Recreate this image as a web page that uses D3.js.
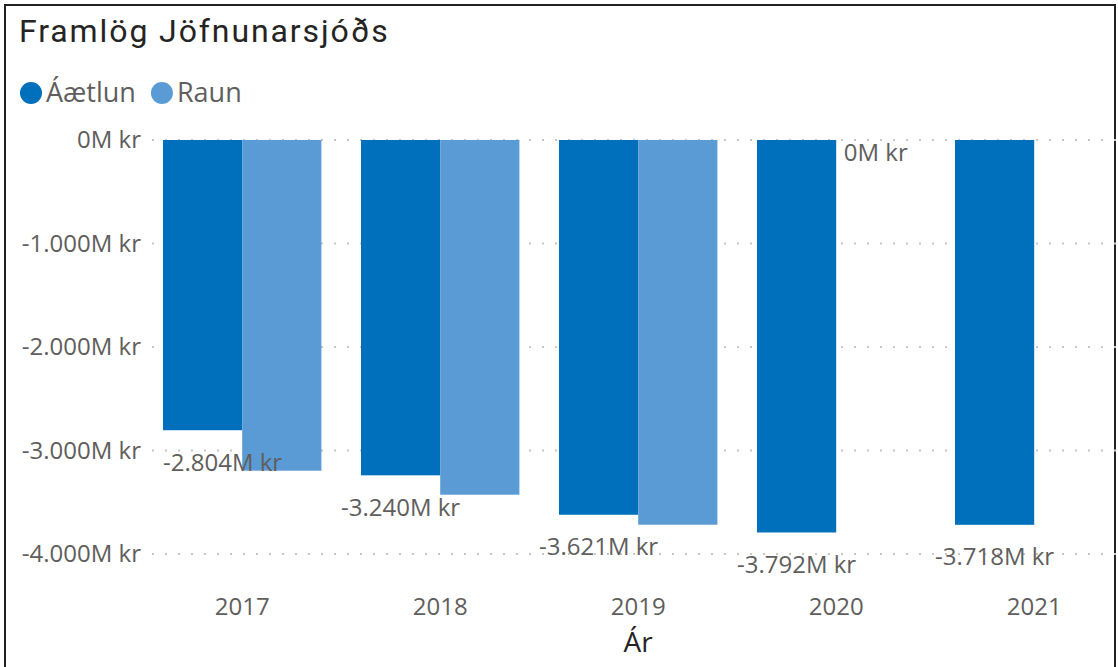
<!DOCTYPE html>
<html>
<head>
<meta charset="utf-8">
<script src="https://cdn.jsdelivr.net/npm/d3@7"></script>
</head>
<body style="overflow: hidden; padding: 0; margin: 0; background: #fff;">
<script>

    const years = ["2017", "2018", "2019", "2020", "2021"];
    const aetlun = [-2804, -3240, -3621, -3792, -3718];   // M kr
    const raun = [-3195, -3427, -3717, 0, null];          // M kr, no value for 2021
    const yTicks = [0, -1000, -2000, -3000, -4000];
    const seriesNames = ["Áætlun", "Raun"];
    const colors = ["#0070BC", "#5B9BD5"];
    const raunLabelYears = ["2020"];

    const width = 1118, height = 667;
    const font = "'Open Sans', 'Noto Sans', sans-serif";
    const gray = "#605E5C";
    const fs = 24;

    const locale = d3.formatLocale({decimal: ",", thousands: ".", grouping: [3], currency: ["", ""], minus: "-"});
    const fmt = d => locale.format(",.0f")(d) + "M kr";

    const svg = d3.select("body").append("svg")
      .attr("width", width)
      .attr("height", height);

    // frame
    svg.append("rect")
      .attr("x", 5).attr("y", 5)
      .attr("width", 1110).attr("height", 700)
      .attr("fill", "none").attr("stroke", "#222").attr("stroke-width", 2);

    svg.append("text")
      .attr("x", 19).attr("y", 42)
      .attr("font-family", "Roboto, sans-serif")
      .attr("font-size", 32)
      .attr("letter-spacing", 1.9)
      .attr("fill", "#252423")
      .text("Framlög Jöfnunarsjóðs");

    // legend
    const legend = svg.append("g");
    let lx = 31;
    seriesNames.forEach((name, i) => {
      legend.append("circle").attr("cx", lx).attr("cy", 93).attr("r", 11).attr("fill", colors[i]);
      const t = legend.append("text")
        .attr("x", lx + 15).attr("y", 93).attr("dy", "0.35em")
        .attr("font-family", font).attr("font-size", 27).attr("fill", gray)
        .text(name);
      lx += 15 + t.node().getComputedTextLength() + 26;
    });

    const y = d3.scaleLinear().domain([-4000, 0]).range([554, 140]);
    const x = d3.scaleBand().domain(years).range([123.4, 1153]).paddingInner(0.2).paddingOuter(0.2);
    const x1 = d3.scaleBand().domain([0, 1]).range([0, x.bandwidth()]);

    // gridlines
    svg.append("g").selectAll("line")
      .data(yTicks)
      .enter().append("line")
      .attr("x1", 152).attr("x2", 1116)
      .attr("y1", d => y(d)).attr("y2", d => y(d))
      .attr("stroke", "#C8C6C4").attr("stroke-width", 2)
      .attr("stroke-dasharray", "2,11");

    const yAxis = svg.append("g")
      .attr("transform", "translate(141,0)")
      .call(d3.axisLeft(y).tickValues(yTicks).tickFormat(fmt).tickSize(0).tickPadding(0));
    yAxis.select(".domain").remove();
    yAxis.selectAll("text").attr("font-family", font).attr("font-size", fs).attr("fill", gray);

    const xAxis = svg.append("g")
      .attr("transform", "translate(0,607)")
      .call(d3.axisBottom(x).tickSize(0).tickPadding(0));
    xAxis.select(".domain").remove();
    xAxis.selectAll("text").attr("y", 0).attr("dy", "0.35em")
      .attr("font-family", font).attr("font-size", fs).attr("fill", gray);

    svg.append("text")
      .attr("x", 638).attr("y", 642).attr("dy", "0.35em")
      .attr("text-anchor", "middle")
      .attr("font-family", font).attr("font-size", 28).attr("fill", "#252423")
      .text("Ár");

    // bars
    const rows = years.map((yr, i) => ({year: yr, vals: [aetlun[i], raun[i]]}));
    const groups = svg.append("g").selectAll("g")
      .data(rows)
      .enter().append("g")
      .attr("transform", d => "translate(" + x(d.year) + ",0)");

    groups.selectAll("rect")
      .data(d => d.vals.map((v, k) => ({k: k, v: v})).filter(e => e.v !== null))
      .enter().append("rect")
      .attr("x", e => x1(e.k))
      .attr("width", x1.bandwidth())
      .attr("y", y(0))
      .attr("height", e => y(e.v) - y(0))
      .attr("fill", e => colors[e.k]);

    // data labels
    const labels = svg.append("g");
    const plotLeft = x(years[0]);
    rows.forEach((d, i) => {
      const cx = x(d.year) + x1(0) + x1.bandwidth() / 2;
      const t = labels.append("text")
        .attr("x", cx).attr("y", y(d.vals[0]) + 32).attr("dy", "0.35em")
        .attr("text-anchor", "middle")
        .attr("font-family", font).attr("font-size", fs).attr("fill", gray)
        .text(fmt(d.vals[0]));
      const w = t.node().getComputedTextLength();
      if (cx - w / 2 < plotLeft) t.attr("x", plotLeft + w / 2);
      if (raunLabelYears.includes(d.year)) {
        labels.append("text")
          .attr("x", x(d.year) + x1(1) + x1.bandwidth() / 2)
          .attr("y", y(d.vals[1]) + 13).attr("dy", "0.35em")
          .attr("text-anchor", "middle")
          .attr("font-family", font).attr("font-size", fs).attr("fill", gray)
          .text(fmt(d.vals[1]));
      }
    });
</script>
</body>
</html>
